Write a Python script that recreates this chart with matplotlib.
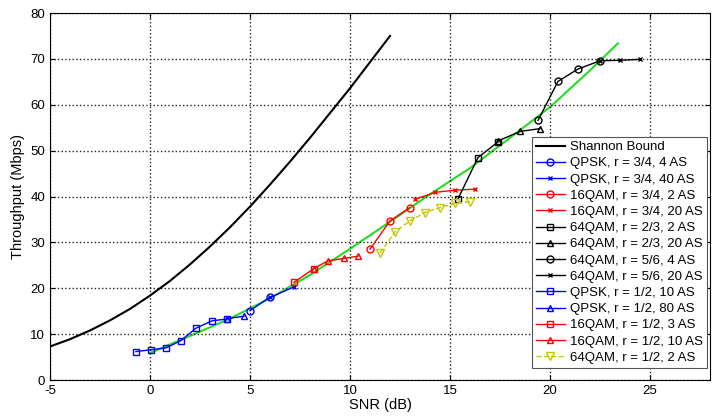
import matplotlib.pyplot as plt

plt.rcParams['font.family'] = ['Liberation Sans', 'DejaVu Sans']
plt.rcParams['axes.unicode_minus'] = False

# Shannon bound
shannon_snr = [-5, -4, -3, -2, -1, 0, 1, 2, 3, 4, 5, 6, 7, 8, 9, 10, 11, 12]
shannon_tp = [7.3, 8.9, 10.8, 13.0, 15.5, 18.4, 21.6, 25.2, 29.1, 33.3, 37.8,
              42.6, 47.6, 52.8, 58.2, 63.6, 69.3, 75.0]

# green fit curve
fit_snr = [0, 2, 4, 6, 8, 10, 12, 14, 16, 18, 20, 22, 23.4]
fit_tp = [5.9, 9.6, 13.4, 17.8, 22.9, 28.6, 34.5, 40.5, 46.2, 52.8, 59.5, 67.5, 73.4]

# measured series
qpsk34_4_snr = [5.0, 6.0]
qpsk34_4_tp = [15.1, 18.1]
qpsk34_40_snr = [6.0, 7.2]
qpsk34_40_tp = [18.0, 20.3]
qam16_34_2_snr = [11.0, 12.0, 13.0]
qam16_34_2_tp = [28.5, 34.7, 37.6]
qam16_34_20_snr = [13.25, 14.25, 15.25, 16.25]
qam16_34_20_tp = [39.4, 40.9, 41.4, 41.6]
qam64_23_2_snr = [15.4, 16.4, 17.4]
qam64_23_2_tp = [39.5, 48.5, 51.9]
qam64_23_20_snr = [17.4, 18.5, 19.5]
qam64_23_20_tp = [52.1, 54.2, 54.8]
qam64_56_4_snr = [19.4, 20.4, 21.4, 22.5]
qam64_56_4_tp = [56.6, 65.1, 67.8, 69.6]
qam64_56_20_snr = [22.5, 23.5, 24.5]
qam64_56_20_tp = [69.6, 69.7, 69.9]
qpsk12_10_snr = [-0.7, 0.05, 0.8, 1.55, 2.3, 3.1, 3.85]
qpsk12_10_tp = [6.2, 6.6, 7.0, 8.6, 11.3, 12.9, 13.3]
qpsk12_80_snr = [3.85, 4.7]
qpsk12_80_tp = [13.4, 13.9]
qam16_12_3_snr = [7.2, 8.2]
qam16_12_3_tp = [21.3, 24.3]
qam16_12_10_snr = [8.2, 8.9, 9.7, 10.4]
qam16_12_10_tp = [24.3, 26.0, 26.5, 27.0]
qam64_12_2_snr = [11.5, 12.25, 13.0, 13.75, 14.5, 15.25, 16.0]
qam64_12_2_tp = [27.7, 32.3, 34.7, 36.5, 37.6, 38.5, 38.9]

fig = plt.figure(figsize=(7.19, 4.17), dpi=100)
ax = fig.add_axes([0.0695, 0.0887, 0.918, 0.880])

ax.plot(fit_snr, fit_tp, color='#22dd22', lw=1.5, zorder=1)

ax.plot(shannon_snr, shannon_tp, 'k-', lw=1.5, label='Shannon Bound')
mk = dict(ms=5, mew=1, mfc='none', lw=1)
ax.plot(qpsk34_4_snr, qpsk34_4_tp, 'b-o', label='QPSK, r = 3/4, 4 AS', **mk)
ax.plot(qpsk34_40_snr, qpsk34_40_tp, 'b-x', ms=3, lw=1, label='QPSK, r = 3/4, 40 AS')
ax.plot(qam16_34_2_snr, qam16_34_2_tp, 'r-o', label='16QAM, r = 3/4, 2 AS', **mk)
ax.plot(qam16_34_20_snr, qam16_34_20_tp, 'r-x', ms=3, lw=1, label='16QAM, r = 3/4, 20 AS')
ax.plot(qam64_23_2_snr, qam64_23_2_tp, 'k-s', label='64QAM, r = 2/3, 2 AS', **mk)
ax.plot(qam64_23_20_snr, qam64_23_20_tp, 'k-^', label='64QAM, r = 2/3, 20 AS', **mk)
ax.plot(qam64_56_4_snr, qam64_56_4_tp, 'k-o', label='64QAM, r = 5/6, 4 AS', **mk)
ax.plot(qam64_56_20_snr, qam64_56_20_tp, 'k-x', ms=3, lw=1, label='64QAM, r = 5/6, 20 AS')
ax.plot(qpsk12_10_snr, qpsk12_10_tp, 'b-s', label='QPSK, r = 1/2, 10 AS', **mk)
ax.plot(qpsk12_80_snr, qpsk12_80_tp, 'b-^', label='QPSK, r = 1/2, 80 AS', **mk)
ax.plot(qam16_12_3_snr, qam16_12_3_tp, 'r-s', label='16QAM, r = 1/2, 3 AS', **mk)
ax.plot(qam16_12_10_snr, qam16_12_10_tp, 'r-^', label='16QAM, r = 1/2, 10 AS', **mk)
ax.plot(qam64_12_2_snr, qam64_12_2_tp, '--v', color='#c8c800', ms=6, mew=1,
        mfc='none', lw=1, label='64QAM, r = 1/2, 2 AS')

ax.set_xlim(-5, 28)
ax.set_ylim(0, 80)
ax.set_xticks([-5, 0, 5, 10, 15, 20, 25])
ax.set_yticks(range(0, 81, 10))
ax.grid(True, color='#222222', linestyle=':', lw=1.0)
ax.tick_params(direction='in', top=True, right=True, labelsize=9.5)
ax.set_xlabel('SNR (dB)', fontsize=10.5, labelpad=1)
ax.set_ylabel('Throughput (Mbps)', fontsize=10.5)

leg = ax.legend(loc='upper left', bbox_to_anchor=(0.730, 0.662), borderaxespad=0,
                fontsize=9.5, fancybox=False, framealpha=1, edgecolor='#555555',
                handlelength=2.2, labelspacing=0.3, borderpad=0.3, handletextpad=0.4)
leg.get_frame().set_linewidth(0.8)

plt.savefig('out.png', dpi=100)
